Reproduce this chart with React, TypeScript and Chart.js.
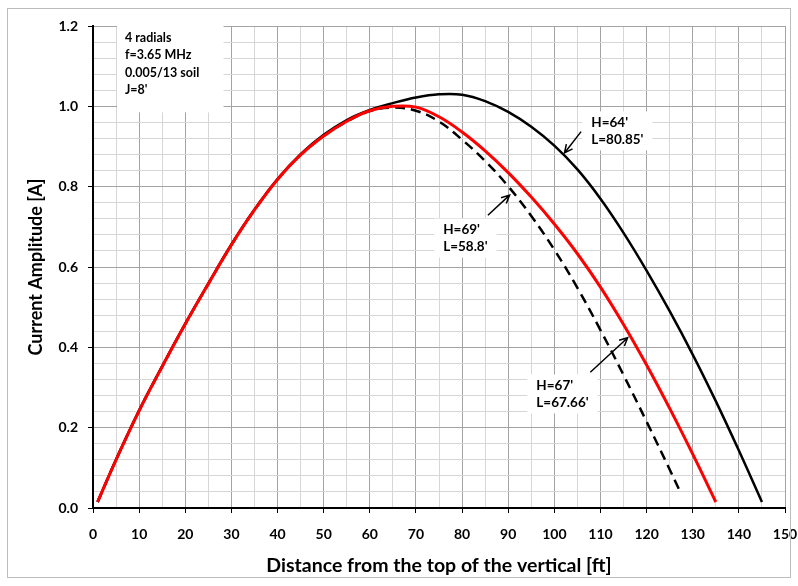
import React, { useEffect, useRef } from 'react';
import { Chart, registerables } from 'chart.js';

Chart.register(...registerables);

// H=64', L=80.85' (solid black)
const distanceH64 = [1, 5, 10, 15, 20, 25, 30, 35, 40, 45, 50, 55, 60, 65, 70, 75, 80, 85, 90, 95, 100, 105, 110, 115, 120, 125, 130, 135, 140, 145];
const currentH64 = [0.015, 0.121, 0.243, 0.353, 0.459, 0.559, 0.656, 0.743, 0.819, 0.881, 0.929, 0.966, 0.991, 1.008, 1.022, 1.03, 1.029, 1.013, 0.986, 0.949, 0.902, 0.843, 0.77, 0.685, 0.591, 0.49, 0.382, 0.266, 0.143, 0.015];

// H=67', L=67.66' (solid red)
const distanceH67 = [1, 5, 10, 15, 20, 25, 30, 35, 40, 45, 50, 55, 60, 65, 70, 75, 80, 85, 90, 95, 100, 105, 110, 115, 120, 125, 130, 135];
const currentH67 = [0.015, 0.12, 0.242, 0.352, 0.458, 0.558, 0.655, 0.742, 0.818, 0.879, 0.926, 0.963, 0.989, 1.0, 0.998, 0.974, 0.936, 0.889, 0.835, 0.774, 0.707, 0.633, 0.55, 0.457, 0.356, 0.248, 0.134, 0.015];

// H=69', L=58.8' (dashed black)
const distanceH69 = [1, 5, 10, 15, 20, 25, 30, 35, 40, 45, 50, 55, 60, 65, 70, 75, 80, 85, 90, 95, 100, 105, 110, 115, 120, 125, 127.5];
const currentH69 = [0.015, 0.12, 0.242, 0.352, 0.458, 0.558, 0.655, 0.742, 0.818, 0.879, 0.926, 0.962, 0.988, 0.997, 0.989, 0.962, 0.917, 0.864, 0.801, 0.727, 0.643, 0.548, 0.443, 0.331, 0.215, 0.096, 0.035];

const xTickLabels = ['0', '10', '20', '30', '40', '50', '60', '70', '80', '90', '100', '110', '120', '130', '140', '150'];
const yTickLabels = ['0.0', '0.2', '0.4', '0.6', '0.8', '1.0', '1.2'];

const infoLines = ['4 radials', 'f=3.65 MHz', '0.005/13 soil', "J=8'"];
const labelH64 = ["H=64'", "L=80.85'"];
const labelH69 = ["H=69'", "L=58.8'"];
const labelH67 = ["H=67'", "L=67.66'"];

const xTitle = 'Distance from the top of the vertical [ft]';
const yTitle = 'Current Amplitude [A]';

const FONT = 'Lato, "Open Sans", sans-serif';
const MAJOR_GRID = '#a3a3a3';
const MINOR_GRID = '#d6d6d6';

// Callout placement in data units: text anchor (left, first line), arrow tail and tip
const callouts = [
  { lines: labelH64, at: [108.0, 0.96], tail: [105.8, 0.937], tip: [102.2, 0.884] },
  { lines: labelH69, at: [75.9, 0.693], tail: [85.6, 0.729], tip: [90.3, 0.779] },
  { lines: labelH67, at: [96.1, 0.305], tail: [107.8, 0.338], tip: [115.9, 0.424] },
];

// Info box corners in data units
const infoBox = { x0: 5.2, y0: 1.2, x1: 28.3, y1: 0.985 };

function toPoints(xs: number[], ys: number[]) {
  return xs.map((x, i) => ({ x, y: ys[i] }));
}

function drawArrow(ctx: CanvasRenderingContext2D, x0: number, y0: number, x1: number, y1: number) {
  const ang = Math.atan2(y1 - y0, x1 - x0);
  const head = 9;
  const spread = 0.45;
  ctx.beginPath();
  ctx.moveTo(x0, y0);
  ctx.lineTo(x1, y1);
  ctx.moveTo(x1 - head * Math.cos(ang - spread), y1 - head * Math.sin(ang - spread));
  ctx.lineTo(x1, y1);
  ctx.lineTo(x1 - head * Math.cos(ang + spread), y1 - head * Math.sin(ang + spread));
  ctx.stroke();
}

const decorations = {
  id: 'decorations',
  afterDatasetsDraw(chart: any) {
    const { ctx, scales } = chart;
    const sx = scales.x;
    const sy = scales.y;
    const px = (v: number) => sx.getPixelForValue(v);
    const py = (v: number) => sy.getPixelForValue(v);
    ctx.save();

    // info box
    const bx0 = px(infoBox.x0);
    const by0 = py(infoBox.y0) - 1;
    const bx1 = px(infoBox.x1);
    const by1 = py(infoBox.y1);
    ctx.fillStyle = '#ffffff';
    ctx.fillRect(bx0, by0, bx1 - bx0, by1 - by0);
    ctx.fillStyle = '#000';
    ctx.font = `bold 12.5px ${FONT}`;
    ctx.textAlign = 'left';
    ctx.textBaseline = 'middle';
    infoLines.forEach((t, i) => ctx.fillText(t, bx0 + 8, by0 + 12.5 + i * 17.5));

    // callouts
    ctx.font = `bold 13.5px ${FONT}`;
    const lineGap = 17;
    callouts.forEach((c) => {
      const tx = px(c.at[0]);
      const ty = py(c.at[1]);
      const w = Math.max(...c.lines.map((l) => ctx.measureText(l).width));
      const top = ty - 11;
      const bottom = ty + (c.lines.length - 1) * lineGap + 11;
      ctx.fillStyle = '#ffffff';
      ctx.fillRect(tx - 9, top, w + 18, bottom - top);
      ctx.fillStyle = '#000';
      c.lines.forEach((l, i) => ctx.fillText(l, tx, ty + i * lineGap));
      ctx.strokeStyle = '#000';
      ctx.lineWidth = 1.5;
      drawArrow(ctx, px(c.tail[0]), py(c.tail[1]), px(c.tip[0]), py(c.tip[1]));
    });
    ctx.restore();
  },
  afterDraw(chart: any) {
    const { ctx, chartArea } = chart;
    ctx.save();
    ctx.fillStyle = '#000';
    ctx.textAlign = 'center';
    ctx.textBaseline = 'middle';
    ctx.font = `bold 19.5px ${FONT}`;
    ctx.fillText(xTitle, (chartArea.left + chartArea.right) / 2, chartArea.bottom + 58);
    ctx.font = `bold 18px ${FONT}`;
    ctx.translate(36, (chartArea.top + chartArea.bottom) / 2);
    ctx.rotate(-Math.PI / 2);
    ctx.fillText(yTitle, 0, 0);
    ctx.restore();

    // chart frame
    ctx.save();
    ctx.strokeStyle = '#bcbcbc';
    ctx.lineWidth = 1;
    ctx.strokeRect(7.5, 8.5, 783, 569);
    ctx.restore();
  },
};

export default function App() {
  const canvasRef = useRef<HTMLCanvasElement | null>(null);

  useEffect(() => {
    const canvas = canvasRef.current;
    if (!canvas) return;
    const tickFont = { family: FONT, size: 14, weight: 'bold' as const };
    const chart = new Chart(canvas, {
      type: 'line',
      data: {
        datasets: [
          {
            label: labelH69.join(' '),
            data: toPoints(distanceH69, currentH69),
            borderColor: '#000000',
            borderWidth: 2.5,
            borderDash: [10, 6],
            pointRadius: 0,
            tension: 0.4,
            order: 3,
          },
          {
            label: labelH64.join(' '),
            data: toPoints(distanceH64, currentH64),
            borderColor: '#000000',
            borderWidth: 2.5,
            pointRadius: 0,
            tension: 0.4,
            order: 2,
          },
          {
            label: labelH67.join(' '),
            data: toPoints(distanceH67, currentH67),
            borderColor: '#ff0000',
            borderWidth: 3,
            pointRadius: 0,
            tension: 0.4,
            order: 1,
          },
        ],
      },
      options: {
        animation: false,
        responsive: false,
        events: [],
        layout: { padding: { left: 0, right: 13, top: 26, bottom: 0 } },
        plugins: { legend: { display: false }, tooltip: { enabled: false } },
        scales: {
          x: {
            type: 'linear',
            min: 0,
            max: 150,
            afterFit: (s: any) => {
              s.height = 78;
              s.paddingLeft = 0;
              s.paddingRight = 0;
            },
            ticks: {
              stepSize: 5,
              autoSkip: false,
              maxRotation: 0,
              padding: 13,
              color: '#000',
              font: tickFont,
              callback: (_v: any, i: number) => (i % 2 === 0 ? xTickLabels[i / 2] : ''),
            },
            grid: {
              color: (c: any) => (c.index % 2 === 0 ? MAJOR_GRID : MINOR_GRID),
              tickColor: (c: any) => (c.index % 2 === 0 ? '#000' : 'rgba(0,0,0,0)'),
              tickLength: 5,
              lineWidth: 1,
            },
            border: { color: '#000', width: 2 },
          },
          y: {
            type: 'linear',
            min: 0,
            max: 1.2,
            afterFit: (s: any) => {
              s.width = 93;
            },
            ticks: {
              stepSize: 0.04,
              autoSkip: false,
              padding: 10,
              color: '#000',
              font: tickFont,
              callback: (_v: any, i: number) => (i % 5 === 0 ? yTickLabels[i / 5] : ''),
            },
            grid: {
              color: (c: any) => (c.index % 5 === 0 ? MAJOR_GRID : MINOR_GRID),
              tickColor: (c: any) => (c.index % 5 === 0 ? '#000' : 'rgba(0,0,0,0)'),
              tickLength: 5,
              lineWidth: 1,
            },
            border: { color: '#000', width: 2 },
          },
        },
      },
      plugins: [decorations],
    });
    return () => chart.destroy();
  }, []);

  return (
    <div style={{ position: 'absolute', left: 0, top: 0, width: 798, height: 586, background: '#fff' }}>
      <canvas ref={canvasRef} width={798} height={586} style={{ display: 'block' }} />
    </div>
  );
}
